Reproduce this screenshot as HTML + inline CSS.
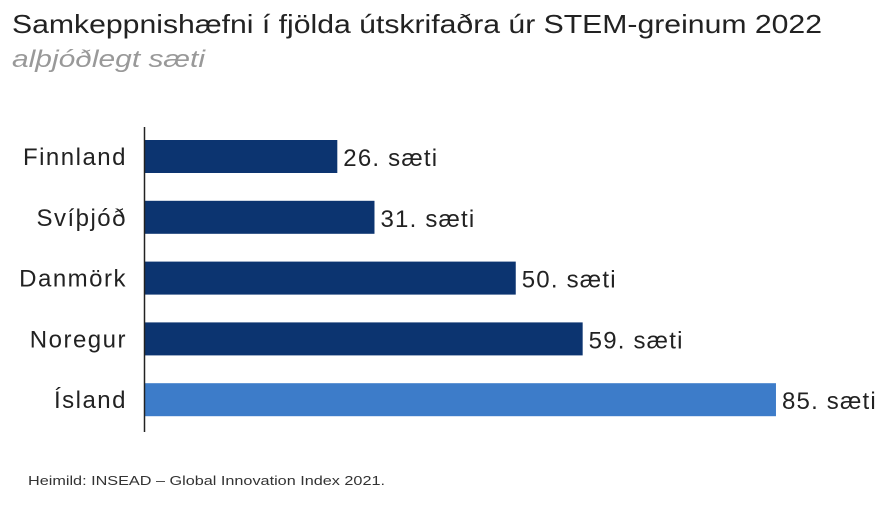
<!DOCTYPE html>
<html><head><meta charset="utf-8"><style>
body{margin:0;background:#fff;width:888px;height:502px;overflow:hidden;font-family:"Liberation Sans",sans-serif}
</style></head><body>
<svg width="888" height="502" xmlns="http://www.w3.org/2000/svg">
<text x="12" y="33" font-size="26" textLength="810" lengthAdjust="spacingAndGlyphs" fill="#222">Samkeppnishæfni í fjölda útskrifaðra úr STEM-greinum 2022</text>
<text x="12" y="67" font-size="24" font-style="italic" textLength="193" lengthAdjust="spacingAndGlyphs" fill="#999">alþjóðlegt sæti</text>
<g id="bars"></g>
<line x1="144.5" y1="127" x2="144.5" y2="432" stroke="#222" stroke-width="1.5"/>
<text x="28" y="485" font-size="13" textLength="357" lengthAdjust="spacingAndGlyphs" fill="#333">Heimild: INSEAD – Global Innovation Index 2021.</text>
</svg>
<script>
const categories=["Finnland","Svíþjóð","Danmörk","Noregur","Ísland"];
const ranks=[26,31,50,59,85];
const valueLabels=["26. sæti","31. sæti","50. sæti","59. sæti","85. sæti"];
const highlight=[false,false,false,false,true];
const x0=144, pxPer=7.435;
function xs(v){return x0+v*pxPer;}
function yb(i){return 140+i*60.8;}
const g=document.getElementById('bars');
const ns="http://www.w3.org/2000/svg";
categories.forEach((c,i)=>{
  const r=document.createElementNS(ns,'rect');
  r.setAttribute('x',x0);r.setAttribute('y',yb(i));
  r.setAttribute('width',xs(ranks[i])-x0);r.setAttribute('height',33);
  r.setAttribute('fill',highlight[i]?'#3d7cc9':'#0c3470');
  
  
  g.appendChild(r);
  const t=document.createElementNS(ns,'text');
  t.setAttribute('x',127);t.setAttribute('y',yb(i)+25);
  t.setAttribute('text-anchor','end');t.setAttribute('font-size','24');t.setAttribute('fill','#222');
  t.setAttribute('letter-spacing','1.5');
  t.textContent=c;
  
  
  g.appendChild(t);
  const v=document.createElementNS(ns,'text');
  v.setAttribute('x',xs(ranks[i])+6);v.setAttribute('y',yb(i)+26);
  v.setAttribute('font-size','24');v.setAttribute('fill','#222');
  v.setAttribute('letter-spacing','1.2');
  v.textContent=valueLabels[i];
  
  
  g.appendChild(v);
});
</script>
</body></html>
